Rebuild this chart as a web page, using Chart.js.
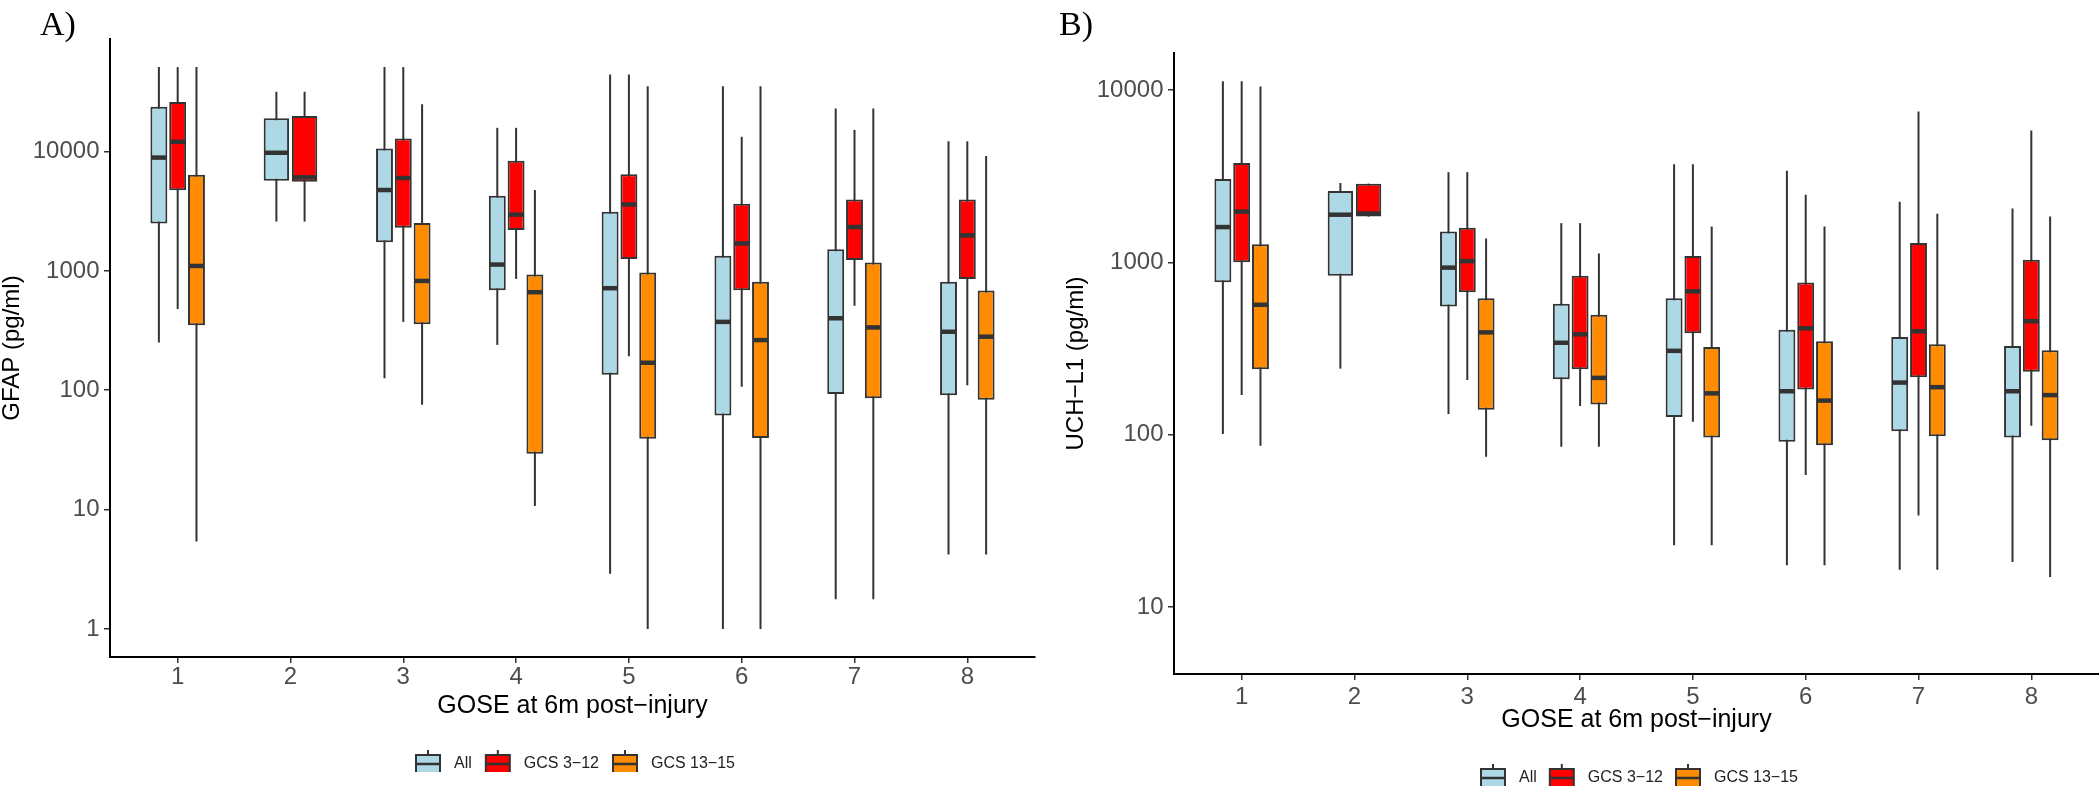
<!DOCTYPE html>
<html><head><meta charset="utf-8">
<script src="https://cdn.jsdelivr.net/npm/chart.js@4.4.1/dist/chart.umd.min.js"></script>
<style>
html,body{margin:0;padding:0;background:#fff;width:2099px;height:793px;overflow:hidden;}
#wrap{position:relative;width:2099px;height:793px;background:#fff;}
canvas{position:absolute;top:0;}
#cA{left:0;} #cB{left:1050px;}
.plab{position:absolute;font-family:"Liberation Serif","DejaVu Serif",serif;font-size:34px;line-height:1;color:#000;}
</style></head><body>
<div id="wrap">
<canvas id="cA" width="1050" height="793"></canvas>
<canvas id="cB" width="1049" height="793"></canvas>
<div class="plab" style="left:40px;top:7px;">A)</div>
<div class="plab" style="left:1059px;top:7px;">B)</div>
</div>
<script>
// ---- categories / series / ticks ----
const GOSE = ['1','2','3','4','5','6','7','8'];
const GOSE_X = [1,2,3,4,5,6,7,8];
const SERIES = ['All', 'GCS 3\u221212', 'GCS 13\u221215'];
const COLORS = ['#ADD8E6', '#FF0000', '#FF8C00'];
const GFAP_TICKS = [1, 10, 100, 1000, 10000];
const UCHL1_TICKS = [10, 100, 1000, 10000];
const X_TITLE = 'GOSE at 6m post\u2212injury';
const GFAP_TITLE = 'GFAP (pg/ml)';
const UCHL1_TITLE = 'UCH\u2212L1 (pg/ml)';

// ---- values: [min, q1, median, q3, max] per GOSE category ----
const GFAP_ALL = [
  [251, 2500, 8900, 23700, 51000],
  [2590, 5700, 9770, 19000, 31700],
  [126, 1740, 4760, 10600, 51000],
  [240, 690, 1130, 4270, 15800],
  [2.9, 135, 716, 3130, 44200],
  [1, 61.5, 374, 1340, 35300],
  [1.77, 93, 401, 1520, 22950],
  [4.2, 91, 309, 812, 12170]
];
const GFAP_GCS3_12 = [
  [479, 4730, 12080, 25950, 51000],
  [2590, 5580, 6080, 19820, 31700],
  [374, 2300, 6000, 12890, 51000],
  [857, 2200, 2960, 8380, 15800],
  [193, 1256, 3600, 6460, 44200],
  [107, 690, 1700, 3660, 13300],
  [510, 1236, 2330, 3960, 15200],
  [110, 855, 1983, 3960, 12170]
];
const GFAP_GCS13_15 = [
  [5.4, 351, 1100, 6400, 51000],
  null,
  [75.6, 358, 824, 2520, 24960],
  [10.7, 29.3, 663, 931, 4760],
  [1, 39.2, 170, 970, 35300],
  [1, 39.8, 263, 812, 35300],
  [1.77, 85.7, 336, 1175, 22950],
  [4.2, 83.2, 281, 686, 9190]
];
const UCHL1_ALL = [
  [101, 767, 1604, 3050, 11250],
  [242, 837, 1892, 2600, 2890],
  [132, 556, 933, 1510, 3340],
  [85.3, 210, 342, 576, 1690],
  [22.9, 127, 307, 620, 3710],
  [17.5, 91.3, 179, 407, 3400],
  [16.5, 105, 201, 370, 2250],
  [18.3, 96.6, 179, 328, 2055]
];
const UCHL1_GCS3_12 = [
  [170, 1002, 1972, 3780, 11250],
  [1844, 1844, 1920, 2865, 2865],
  [208, 671, 1018, 1590, 3340],
  [147, 240, 383, 837, 1690],
  [119, 389, 680, 1089, 3710],
  [58.5, 183, 415, 765, 2470],
  [34, 216, 399, 1297, 7520],
  [113, 232, 456, 1035, 5820]
];
const UCHL1_GCS13_15 = [
  [86.5, 240, 568, 1274, 10470],
  null,
  [74.6, 140, 393, 619, 1377],
  [85.3, 150, 214, 497, 1127],
  [22.9, 96.6, 174, 323, 1617],
  [17.5, 87, 158, 349, 1617],
  [16.5, 98, 189, 335, 1914],
  [15, 93, 170, 309, 1845]
];

const FONT = '"Liberation Sans", Arial, sans-serif';
const EDGE = '#333333';

function glyph(color) {
  const c = document.createElement('canvas');
  c.width = 28; c.height = 28;
  const g = c.getContext('2d');
  g.strokeStyle = EDGE; g.lineWidth = 2;
  g.beginPath(); g.moveTo(14, 0); g.lineTo(14, 28); g.stroke();
  g.fillStyle = color; g.fillRect(2, 5, 24, 18);
  g.strokeRect(2, 5, 24, 18);
  g.lineWidth = 2.5;
  g.beginPath(); g.moveTo(2, 14); g.lineTo(26, 14); g.stroke();
  return c;
}
const GLYPHS = COLORS.map(glyph);

const boxPlugin = {
  id: 'boxWhiskers',
  beforeInit(chart) {
    if (chart.legend) {
      const orig = chart.legend.fit;
      chart.legend.fit = function () { orig.call(this); if (this.height > 10) this.height -= 10; };
    }
  },
  beforeDatasetsDraw(chart) {
    const ctx = chart.ctx, ys = chart.scales.y;
    ctx.save();
    ctx.strokeStyle = EDGE; ctx.lineWidth = 2;
    chart.data.datasets.forEach((ds, di) => {
      const meta = chart.getDatasetMeta(di);
      ds.stats.forEach((s, i) => {
        if (!s) return;
        const bar = meta.data[i];
        ctx.beginPath();
        ctx.moveTo(bar.x, ys.getPixelForValue(s[0]));
        ctx.lineTo(bar.x, ys.getPixelForValue(s[4]));
        ctx.stroke();
      });
    });
    ctx.restore();
  },
  afterDatasetsDraw(chart) {
    const ctx = chart.ctx, ys = chart.scales.y;
    ctx.save();
    ctx.strokeStyle = EDGE; ctx.lineWidth = 4.5;
    chart.data.datasets.forEach((ds, di) => {
      const meta = chart.getDatasetMeta(di);
      ds.stats.forEach((s, i) => {
        if (!s) return;
        const bar = meta.data[i];
        const y = ys.getPixelForValue(s[2]);
        ctx.beginPath();
        ctx.moveTo(bar.x - bar.width / 2 + 1, y);
        ctx.lineTo(bar.x + bar.width / 2 - 1, y);
        ctx.stroke();
      });
    });
    ctx.restore();
  }
};

function makeChart(id, cfg) {
  const datasets = cfg.series.map((stats, k) => ({
    label: SERIES[k],
    stats: stats,
    data: GOSE_X.map((x, i) => ({ x: x, y: stats[i] ? [stats[i][1], stats[i][3]] : null })),
    backgroundColor: COLORS[k],
    borderColor: EDGE,
    borderWidth: 2,
    borderSkipped: false,
    categoryPercentage: 0.5,
    barPercentage: 0.9,
    skipNull: true
  }));
  return new Chart(document.getElementById(id), {
    type: 'bar',
    data: { datasets },
    options: {
      responsive: false,
      animation: false,
      layout: { padding: cfg.padding },
      plugins: {
        tooltip: { enabled: false },
        legend: {
          position: 'bottom', fullSize: false, align: 'center',
          labels: {
            usePointStyle: true, pointStyleWidth: 36, padding: cfg.legendPad,
            font: { family: FONT, size: 16 }, color: '#222',
            generateLabels: (ch) => ch.data.datasets.map((ds, i) => ({
              text: ds.label, pointStyle: GLYPHS[i], fillStyle: COLORS[i],
              strokeStyle: EDGE, lineWidth: 0, hidden: false, datasetIndex: i, fontColor: '#222'
            }))
          }
        }
      },
      scales: {
        x: {
          type: 'linear', min: 0.4, max: 8.6, offset: false,
          afterBuildTicks: (s) => { s.ticks = GOSE_X.map(v => ({ value: v })); },
          afterFit: (s) => { s.height = cfg.xH; },
          ticks: {
            callback: (v, i) => GOSE[i], autoSkip: false, maxRotation: 0,
            font: { family: FONT, size: 24, lineHeight: 1 }, color: '#4D4D4D', padding: cfg.xTickPad
          },
          grid: { offset: false, drawOnChartArea: false, drawTicks: true, tickLength: 6, color: EDGE, lineWidth: 1.5 },
          border: { display: true, color: '#000', width: 2 },
          title: {
            display: true, text: X_TITLE, color: '#000',
            font: { family: FONT, size: 25, lineHeight: 1 },
            padding: { top: 0, bottom: cfg.xTitlePad }
          }
        },
        y: {
          type: 'logarithmic', min: cfg.yMin, max: cfg.yMax,
          afterBuildTicks: (s) => { s.ticks = cfg.ticks.map(v => ({ value: v })); },
          afterFit: (s) => { s.width = cfg.yW; },
          ticks: {
            callback: (v, i) => String(cfg.ticks[i]), autoSkip: false,
            font: { family: FONT, size: 24, lineHeight: 1 }, color: '#4D4D4D', padding: 4.5
          },
          grid: { offset: false, drawOnChartArea: false, drawTicks: true, tickLength: 6, color: EDGE, lineWidth: 1.5 },
          border: { display: true, color: '#000', width: 2 },
          title: {
            display: true, text: cfg.yTitle, color: '#000',
            font: { family: FONT, size: 24, lineHeight: 1 },
            padding: { top: cfg.yTitlePad, bottom: 0 }
          }
        }
      }
    },
    plugins: [boxPlugin]
  });
}

makeChart('cA', {
  series: [GFAP_ALL, GFAP_GCS3_12, GFAP_GCS13_15],
  ticks: GFAP_TICKS, yTitle: GFAP_TITLE,
  yMin: 0.582, yMax: 87700,
  padding: { top: 39, right: 15, bottom: 21, left: 0 },
  yW: 110, xH: 91, xTickPad: 2.5, xTitlePad: 29.5, yTitlePad: 0.5, legendPad: 8
});
makeChart('cB', {
  series: [UCHL1_ALL, UCHL1_GCS3_12, UCHL1_GCS13_15],
  ticks: UCHL1_TICKS, yTitle: UCHL1_TITLE,
  yMin: 4.1, yMax: 16400,
  padding: { top: 53, right: 0, bottom: 7, left: 0 },
  yW: 124, xH: 89, xTickPad: 5.5, xTitlePad: 30.5, yTitlePad: 14, legendPad: 7
});
</script>
</body></html>
